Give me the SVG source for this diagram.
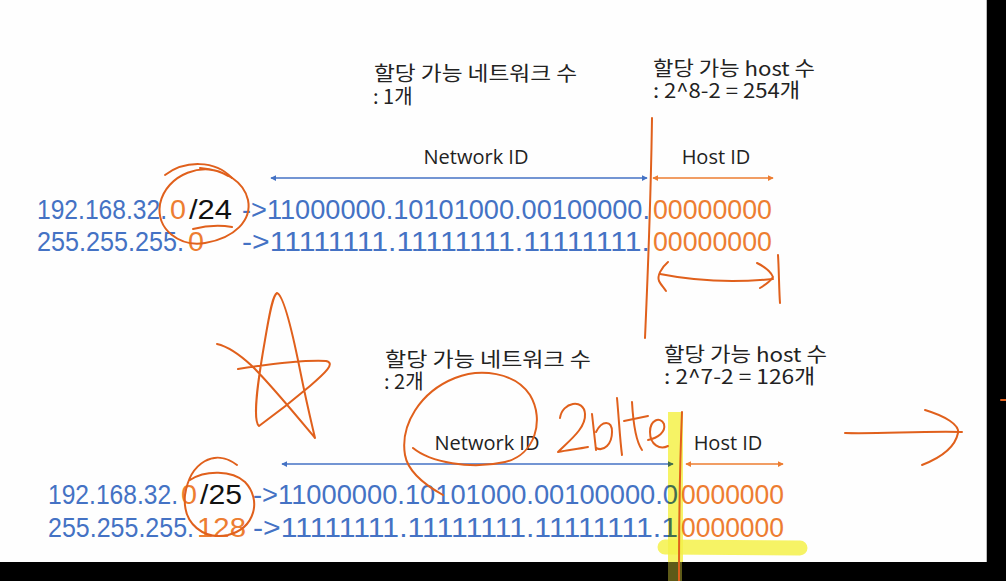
<svg xmlns="http://www.w3.org/2000/svg" width="1006" height="581" viewBox="0 0 1006 581">
  <style>
    .row { font-family: "Liberation Sans", "Open Sans", sans-serif; font-size: 27px; }
    .lbl { font-family: "Open Sans", "Noto Sans CJK KR", sans-serif; font-size: 20px; fill: #222; }
    .ko { font-family: "Noto Sans CJK KR", "Open Sans", sans-serif; font-size: 20px; fill: #222; }
    .b { fill: #4472c4; }
    .o { fill: #ed7d31; }
    .k { fill: #111; }
    .ink { fill: none; stroke: #e0601c; stroke-width: 2; stroke-linecap: round; stroke-linejoin: round; }
    .hl { mix-blend-mode: multiply; }
  </style>
  <defs>
    <marker id="mb" viewBox="0 0 8 8" refX="7" refY="4" markerWidth="6" markerHeight="6" orient="auto-start-reverse" markerUnits="userSpaceOnUse">
      <path d="M0,0 L8,4 L0,8 z" fill="#4472c4"/>
    </marker>
    <marker id="mo" viewBox="0 0 8 8" refX="7" refY="4" markerWidth="6" markerHeight="6" orient="auto-start-reverse" markerUnits="userSpaceOnUse">
      <path d="M0,0 L8,4 L0,8 z" fill="#ed7d31"/>
    </marker>
  </defs>

  <rect x="0" y="0" width="1006" height="581" fill="#fefefe"/>

  <!-- top section -->
  <g id="label-net-1">
    <text class="ko"><tspan x="374" y="81" textLength="203" lengthAdjust="spacingAndGlyphs">할당 가능 네트워크 수</tspan><tspan x="373" y="104">: 1개</tspan></text>
  </g>
  <g id="label-host-1">
    <text class="ko"><tspan x="653" y="76" textLength="162" lengthAdjust="spacingAndGlyphs">할당 가능 host 수</tspan><tspan x="653" y="98" textLength="147" lengthAdjust="spacingAndGlyphs">: 2^8-2 = 254개</tspan></text>
  </g>
  <g id="netid-1"><text class="lbl" x="476" y="164" text-anchor="middle">Network ID</text></g>
  <g id="hostid-1"><text class="lbl" x="716" y="164" text-anchor="middle">Host ID</text></g>

  <g id="row-ip-24">
    <text class="row" y="219"><tspan class="b" x="37" textLength="130" lengthAdjust="spacingAndGlyphs">192.168.32.</tspan><tspan class="o" x="170" textLength="16" lengthAdjust="spacingAndGlyphs">0</tspan><tspan class="k" x="189" textLength="43" lengthAdjust="spacingAndGlyphs">/24</tspan><tspan class="b" x="242" textLength="408" lengthAdjust="spacingAndGlyphs">-&gt;11000000.10101000.00100000.</tspan><tspan class="o" x="653" textLength="119" lengthAdjust="spacingAndGlyphs">00000000</tspan></text>
  </g>
  <g id="row-mask-24">
    <text class="row" y="251"><tspan class="b" x="37" textLength="147" lengthAdjust="spacingAndGlyphs">255.255.255.</tspan><tspan class="o" x="188" textLength="16" lengthAdjust="spacingAndGlyphs">0</tspan><tspan class="b" x="242" textLength="408" lengthAdjust="spacingAndGlyphs">-&gt;11111111.11111111.11111111.</tspan><tspan class="o" x="653" textLength="119" lengthAdjust="spacingAndGlyphs">00000000</tspan></text>
  </g>

  <!-- bottom section -->
  <g id="label-net-2">
    <text class="ko"><tspan x="385" y="367" textLength="206" lengthAdjust="spacingAndGlyphs">할당 가능 네트워크 수</tspan><tspan x="384" y="389">: 2개</tspan></text>
  </g>
  <g id="label-host-2">
    <text class="ko"><tspan x="664" y="362" textLength="163" lengthAdjust="spacingAndGlyphs">할당 가능 host 수</tspan><tspan x="664" y="384" textLength="151" lengthAdjust="spacingAndGlyphs">: 2^7-2 = 126개</tspan></text>
  </g>
  <g id="netid-2"><text class="lbl" x="487" y="450" text-anchor="middle">Network ID</text></g>
  <g id="hostid-2"><text class="lbl" x="728" y="450" text-anchor="middle">Host ID</text></g>

  <g id="row-ip-25">
    <text class="row" y="504"><tspan class="b" x="48" textLength="130" lengthAdjust="spacingAndGlyphs">192.168.32.</tspan><tspan class="o" x="181" textLength="16" lengthAdjust="spacingAndGlyphs">0</tspan><tspan class="k" x="200" textLength="42" lengthAdjust="spacingAndGlyphs">/25</tspan><tspan class="b" x="253" textLength="425" lengthAdjust="spacingAndGlyphs">-&gt;11000000.10101000.00100000.0</tspan><tspan class="o" x="681" textLength="103" lengthAdjust="spacingAndGlyphs">0000000</tspan></text>
  </g>
  <g id="row-mask-25">
    <text class="row" y="537"><tspan class="b" x="48" textLength="146" lengthAdjust="spacingAndGlyphs">255.255.255.</tspan><tspan class="o" x="197" textLength="49" lengthAdjust="spacingAndGlyphs">128</tspan><tspan class="b" x="253" textLength="425" lengthAdjust="spacingAndGlyphs">-&gt;11111111.11111111.11111111.1</tspan><tspan class="o" x="681" textLength="103" lengthAdjust="spacingAndGlyphs">0000000</tspan></text>
  </g>

  <!-- connectors -->
  <g id="connectors" stroke-width="1.5" fill="none">
    <line x1="271" y1="178" x2="647" y2="178" stroke="#4472c4" marker-start="url(#mb)" marker-end="url(#mb)"/>
    <line x1="653" y1="178" x2="773" y2="178" stroke="#ed7d31" marker-start="url(#mo)" marker-end="url(#mo)"/>
    <line x1="282" y1="464" x2="673" y2="464" stroke="#4472c4" marker-start="url(#mb)" marker-end="url(#mb)"/>
    <line x1="686" y1="464" x2="783" y2="464" stroke="#ed7d31" marker-start="url(#mo)" marker-end="url(#mo)"/>
  </g>

  <!-- highlighter -->
  <g id="highlight" class="hl">
    <rect x="668" y="412" width="15" height="150" fill="#f6f24a" opacity="0.85"/>
    <path d="M665,547 L800,548" stroke="#f6f24a" stroke-width="15" stroke-linecap="round" opacity="0.85" fill="none"/>
  </g>

  <!-- hand-drawn annotations -->
  <g id="annotations" class="ink">
    <path d="M165,175 C185,160 215,160 232,178"/>
    <path d="M228,176 C205,160 166,174 160,204 C156,230 180,247 205,243 C235,238 252,220 248,200 C244,182 226,170 200,168"/>
    <path d="M193,229 C205,226 220,225 232,227"/>
    <path d="M652,118 C651,190 648,270 645,338"/>
    <path d="M668,262 C661,268 657,276 659,281 C661,285 664,288 666,291"/>
    <path d="M660,274 C690,280 730,283 773,279"/>
    <path d="M757,263 C765,267 771,272 773,277 C770,282 765,285 760,288"/>
    <path d="M778,255 C779,270 779,290 780,303"/>
    <path d="M238,369 C270,364 305,360 326,361 C336,363 325,373 310,386 C290,403 270,418 259,426 C252,420 258,380 265,340 C270,310 273,295 277,293 C283,295 292,330 300,370 C307,405 312,425 315,438 C300,420 272,386 252,366 C238,353 226,346 217,344"/>
    <path d="M237,465 C215,448 190,462 185,495 C182,525 205,540 228,535 C255,528 262,500 245,482 C232,470 205,470 190,480"/>
    <path d="M413,448 C430,462 470,470 505,462 C535,455 545,420 530,395 C515,372 480,368 455,378 C420,392 400,425 405,455 C408,472 425,485 443,495"/>
    <path d="M560,418 C562,402 584,398 585,414 C586,428 570,440 558,452 C568,450 578,449 588,447"/>
    <path d="M592,414 L596,450"/>
    <path d="M596,432 C602,420 612,420 612,432 C612,444 604,452 596,448"/>
    <path d="M617,398 C619,420 620,440 622,455"/>
    <path d="M632,402 C633,420 635,440 642,450"/>
    <path d="M624,421 L648,416"/>
    <path d="M648,440 C658,438 666,432 664,424 C660,416 650,420 650,432 C650,445 660,450 668,446"/>
    <path d="M845,433 C880,434 920,431 962,432"/>
    <path d="M925,410 C945,416 960,425 958,433 C955,448 940,458 922,465"/>
  </g>

  <!-- frame -->
  <rect x="0" y="562" width="1006" height="19" fill="#000"/>
  <rect x="987" y="0" width="19" height="581" fill="#000"/>
  <line x1="986.5" y1="0" x2="986.5" y2="562" stroke="#bbb" stroke-width="1"/>
  <rect x="668" y="562" width="14" height="19" fill="#5e5a18"/>
  <path class="ink" d="M682,412 C680,460 679,520 679,581"/>
  <path class="ink" d="M1001,400 L1006,400"/>
</svg>
